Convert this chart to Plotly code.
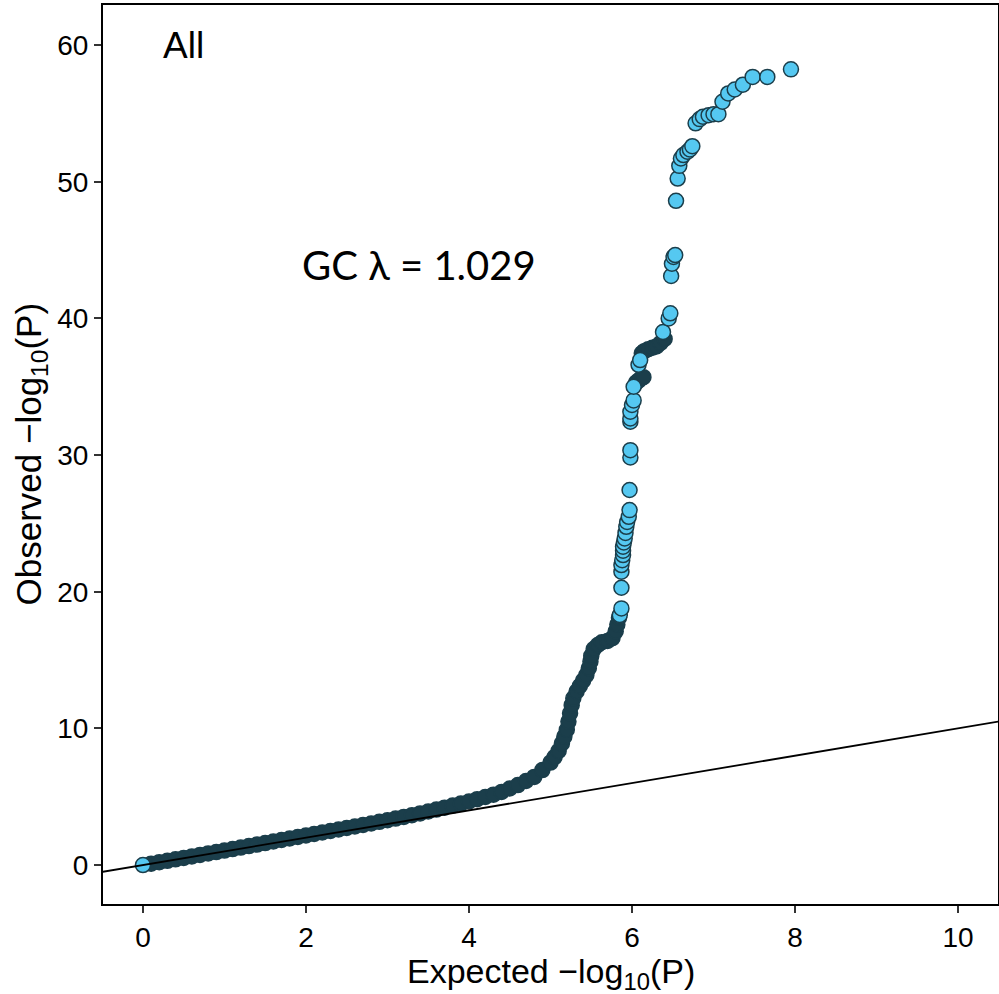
import plotly.graph_objects as go

# Dense part of the QQ curve (heavily overlapping points)
dense_expected = [0.1, 0.2, 0.3, 0.4, 0.5, 0.6, 0.7, 0.8, 0.9, 1.0, 1.1, 1.2, 1.3, 1.4, 1.5,
                  1.6, 1.7, 1.8, 1.9, 2.0, 2.1, 2.2, 2.3, 2.4, 2.5, 2.6, 2.7, 2.8, 2.9, 3.0,
                  3.1, 3.2, 3.3, 3.4, 3.5, 3.6, 3.7, 3.8, 3.9, 4.0, 4.1, 4.2, 4.3, 4.4, 4.5,
                  4.6, 4.7, 4.8, 4.9, 5.0, 5.05, 5.1, 5.14, 5.17, 5.2, 5.22, 5.24, 5.26, 5.28,
                  5.32, 5.36, 5.4, 5.44, 5.47, 5.49, 5.5, 5.53, 5.58, 5.63, 5.7, 5.76, 5.8,
                  5.82, 5.84,
                  6.05, 6.08, 6.11, 6.14,
                  6.12, 6.15, 6.2, 6.25, 6.3, 6.35, 6.4]
dense_observed = [0.1, 0.21, 0.31, 0.42, 0.52, 0.63, 0.74, 0.85, 0.95, 1.06, 1.17, 1.28, 1.39, 1.5, 1.61,
                  1.72, 1.83, 1.94, 2.05, 2.16, 2.27, 2.38, 2.49, 2.6, 2.71, 2.82, 2.93, 3.04, 3.16, 3.28,
                  3.4, 3.52, 3.65, 3.78, 3.92, 4.06, 4.2, 4.35, 4.5, 4.65, 4.82, 4.98, 5.15, 5.35, 5.6,
                  5.85, 6.15, 6.45, 6.95, 7.5, 7.9, 8.35, 8.9, 9.4, 9.9, 10.5, 11.1, 11.7, 12.2,
                  12.7, 13.1, 13.5, 13.9, 14.4, 14.9, 15.3, 15.8, 16.1, 16.3, 16.4, 16.6, 17.1,
                  17.6, 18.1,
                  35.3, 35.45, 35.6, 35.7,
                  37.45, 37.6, 37.75, 37.85, 37.95, 38.2, 38.5]

# Individually visible points
point_expected = [0.0, 5.85, 5.87, 5.87, 5.87, 5.87, 5.88, 5.89, 5.89, 5.89, 5.90, 5.91, 5.92,
                  5.93, 5.94, 5.96, 5.97, 5.97, 5.98, 5.98, 5.98, 5.98, 5.98, 6.0, 6.02, 6.02,
                  6.08, 6.1, 6.38, 6.45, 6.47, 6.48, 6.49, 6.51, 6.53, 6.54, 6.56, 6.58, 6.60,
                  6.63, 6.68, 6.71, 6.74, 6.78, 6.83, 6.87, 6.94, 7.0, 7.06, 7.11, 7.18, 7.26,
                  7.36, 7.48, 7.66, 7.95]
point_observed = [0.0, 18.29, 18.78, 20.29, 21.46, 21.95, 22.3, 22.68, 23.0, 23.29, 23.6, 23.9, 24.3,
                  24.75, 25.1, 25.48, 25.97, 27.44, 29.82, 30.36, 32.44, 32.68, 33.17, 33.66, 34.0, 35.0,
                  36.6, 36.95, 39.0, 40.0, 40.37, 43.1, 44.0, 44.5, 44.63, 48.6, 50.23, 51.16, 51.7,
                  51.95, 52.19, 52.36, 52.6, 54.27, 54.58, 54.75, 54.87, 54.94, 54.94, 55.85, 56.46, 56.75,
                  57.1, 57.67, 57.67, 58.22]

# Reference line y = x
diag = [-1, 11]

x_ticks = [0, 2, 4, 6, 8, 10]
y_ticks = [0, 10, 20, 30, 40, 50, 60]

DARK = "#1b3e4b"
LIGHT = "#55c8f1"
FONT = "Liberation Sans, Arial, Helvetica"

fig = go.Figure()
fig.add_trace(go.Scatter(x=dense_expected, y=dense_observed, mode="markers",
                         marker=dict(size=15, color=DARK, line=dict(color=DARK, width=1.5)),
                         showlegend=False, hoverinfo="skip"))
fig.add_trace(go.Scatter(x=point_expected, y=point_observed, mode="markers",
                         marker=dict(size=15, color=LIGHT, line=dict(color=DARK, width=1.5)),
                         showlegend=False))
fig.add_trace(go.Scatter(x=diag, y=diag, mode="lines",
                         line=dict(color="black", width=1.8), showlegend=False, hoverinfo="skip"))

axis_common = dict(showgrid=False, zeroline=False, showline=True, linecolor="black", linewidth=2,
                   mirror=True, ticks="outside", ticklen=7, tickwidth=1.5, tickcolor="#333",
                   automargin=False,
                   tickfont=dict(family=FONT, size=28, color="black"))

fig.update_xaxes(range=[-0.49, 10.49], tickvals=x_ticks, ticktext=[str(v) for v in x_ticks],
                 **axis_common)
fig.update_yaxes(range=[-2.85, 62.93], tickvals=y_ticks, ticktext=[str(v) for v in y_ticks],
                 **axis_common)

# Axis titles
fig.add_annotation(x=0.5, y=0, xref="paper", yref="paper", yanchor="middle", yshift=-69,
                   text="Expected −log<sub>10</sub>(P)", showarrow=False,
                   font=dict(family=FONT, size=34, color="black"))
fig.add_annotation(x=0, y=0.5, xref="paper", yref="paper", xanchor="center", xshift=-73,
                   textangle=-90, text="Observed −log<sub>10</sub>(P)", showarrow=False,
                   font=dict(family=FONT, size=35, color="black"))

fig.add_annotation(x=0.5, y=60, text="All", showarrow=False,
                   font=dict(family=FONT, size=37, color="black"))
fig.add_annotation(x=3.39, y=43.9, text="GC λ = 1.029", showarrow=False,
                   font=dict(family="Lato, Carlito, sans-serif", size=40, color="black"))

fig.update_layout(width=999, height=994, plot_bgcolor="white", paper_bgcolor="white",
                  margin=dict(l=103, r=1, t=5, b=90))

fig.write_html("out.html", config={"displayModeBar": False},
               post_script="document.body.style.margin='0';document.body.style.overflow='hidden';")
